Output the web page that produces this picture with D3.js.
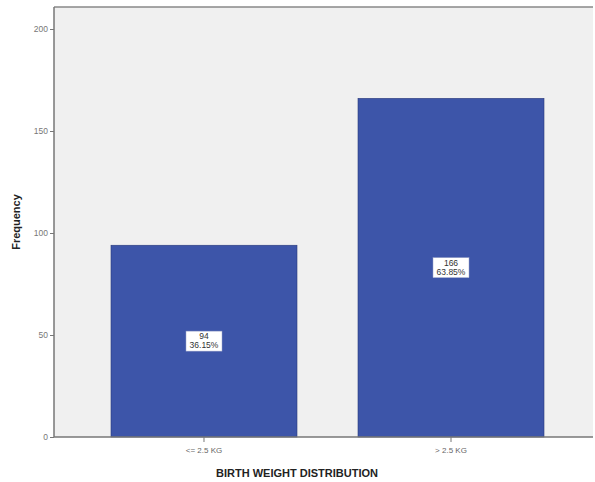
<!DOCTYPE html>
<html><head><meta charset="utf-8">
<script src="https://cdn.jsdelivr.net/npm/d3@7"></script>
<style>body{margin:0;background:#fff}svg{display:block}</style>
</head><body>
<script>
const categories = ["<= 2.5 KG", "> 2.5 KG"];
const frequencies = [94, 166];
const percentLabels = ["36.15%", "63.85%"];
const yTicks = [0, 50, 100, 150, 200];

const W = 595, H = 482;
const svg = d3.select("body").append("svg").attr("width", W).attr("height", H);
const m = {left: 54, top: 7, right: 2, bottom: 45};
const x0 = m.left, x1 = W - m.right, yBase = 437;

const y = d3.scaleLinear().domain([0, 200]).range([yBase, 29]);
const x = d3.scaleBand().domain(categories).range([x0 + 7.6, x1 + 0.4]).paddingInner(0.247).paddingOuter(0.2);

svg.append("rect").attr("x", x0).attr("y", m.top).attr("width", x1 - x0).attr("height", yBase - m.top).attr("fill", "#f0f0f0");
svg.append("line").attr("x1", x0).attr("x2", x1).attr("y1", m.top).attr("y2", m.top).attr("stroke", "#888").attr("stroke-width", 1.5);

svg.selectAll("rect.bar").data(frequencies).join("rect").attr("class", "bar")
  .attr("x", (d, i) => x(categories[i])).attr("width", x.bandwidth())
  .attr("y", d => y(d)).attr("height", d => yBase - y(d))
  .attr("fill", "#3d55a9").attr("stroke", "#2a3a7a").attr("stroke-width", 0.6);

const yAxis = svg.append("g").attr("transform", `translate(${x0},0)`)
  .call(d3.axisLeft(y).tickValues(yTicks).tickSize(4).tickPadding(2));
yAxis.select(".domain").attr("stroke", "#777").attr("stroke-width", 1.5);
yAxis.selectAll(".tick line").attr("stroke", "#777");
yAxis.selectAll(".tick text").attr("fill", "#777").attr("font-family", "Arial, Liberation Sans, sans-serif").attr("font-size", 8.5);
yAxis.select(".domain").attr("d", `M0,${m.top}V${yBase}`);

const xAxis = svg.append("g").attr("transform", `translate(0,${yBase})`)
  .call(d3.axisBottom(x).tickSize(5).tickPadding(5));
xAxis.select(".domain").attr("stroke", "#777").attr("stroke-width", 1.5).attr("d", `M${x0},0H${x1}`);
xAxis.selectAll(".tick line").attr("stroke", "#777");
xAxis.selectAll(".tick text").attr("fill", "#666").attr("font-family", "Arial, Liberation Sans, sans-serif").attr("font-size", 8);

// value labels
const lbl = svg.selectAll("g.lbl").data(frequencies).join("g").attr("class", "lbl")
  .attr("transform", (d, i) => `translate(${x(categories[i]) + x.bandwidth() / 2},${(y(d) + yBase) / 2})`);
lbl.append("rect").attr("x", -18).attr("y", -10).attr("width", 36).attr("height", 20).attr("fill", "#fff").attr("stroke", "#9aa3c8").attr("stroke-width", 0.5);
lbl.append("text").attr("y", -2).attr("text-anchor", "middle").attr("font-family", "Arial, Liberation Sans, sans-serif").attr("font-size", 8.5).attr("fill", "#333").text(d => d);
lbl.append("text").attr("y", 7).attr("text-anchor", "middle").attr("font-family", "Arial, Liberation Sans, sans-serif").attr("font-size", 8.5).attr("fill", "#333").text((d, i) => percentLabels[i]);

svg.append("text").attr("x", 297).attr("y", 477).attr("text-anchor", "middle")
  .attr("font-family", "Arial, Liberation Sans, sans-serif").attr("font-weight", "bold").attr("font-size", 11).attr("fill", "#222")
  .text("BIRTH WEIGHT DISTRIBUTION");
svg.append("text").attr("transform", "translate(20,222) rotate(-90)").attr("text-anchor", "middle")
  .attr("font-family", "Arial, Liberation Sans, sans-serif").attr("font-weight", "bold").attr("font-size", 11).attr("fill", "#222")
  .text("Frequency");
</script>
</body></html>
